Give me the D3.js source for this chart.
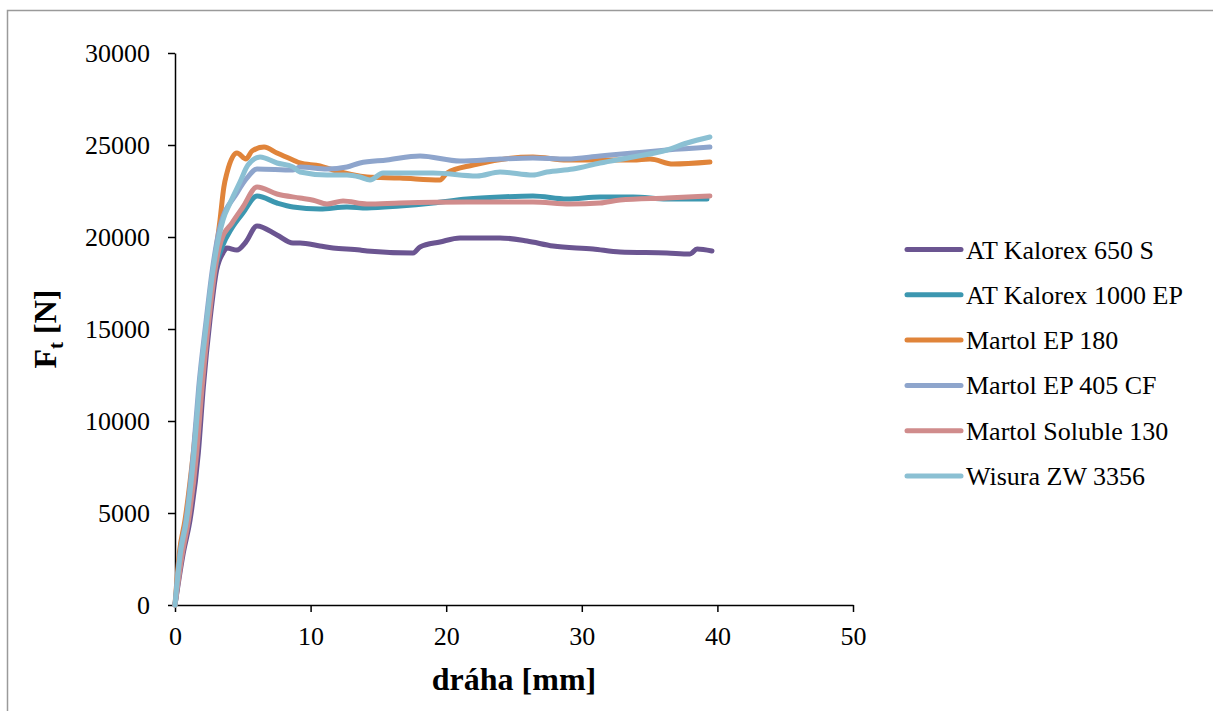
<!DOCTYPE html>
<html>
<head>
<meta charset="utf-8">
<script src="https://cdn.jsdelivr.net/npm/d3@7"></script>
<style>
  body { margin: 0; background: #fff; }
  svg { display: block; }
  text { font-family: "Liberation Serif", "Times New Roman", serif; fill: #000; }
</style>
</head>
<body>
<svg id="chart" width="1213" height="711"></svg>
<script>
// ---- data: [dráha mm, Ft N] ----
const seriesNames = ["AT Kalorex 650 S", "AT Kalorex 1000 EP", "Martol EP 180", "Martol EP 405 CF", "Martol Soluble 130", "Wisura ZW 3356"];
const seriesColors = ["#6B5591", "#3C97B0", "#E0843A", "#8EA5CC", "#D08C8C", "#8BC0D3"];

const kalorex650 = [[0,0],[0.61,2826],[1.11,4620],[1.72,8260],[2.09,11850],[2.58,15490],[3.07,18200],[3.54,19130],[3.83,19400],[4.57,19293],[5.2,19700],[6.05,20600],[7.52,20109],[8.7,19674],[9.22,19674],[10.69,19511],[11.65,19400],[13.64,19293],[14.16,19240],[17.55,19130],[18.07,19460],[19.54,19730],[21.02,19950],[23.97,19950],[25.96,19780],[27.88,19510],[30.83,19350],[32.82,19185],[36.28,19130],[37.98,19080],[38.5,19350],[39.6,19240]];
const kalorex1000 = [[0,0],[0.5,2826],[0.95,4620],[1.55,8260],[1.95,11850],[2.45,15490],[2.95,18200],[3.5,19500],[4.2,20489],[5.01,21300],[6.05,22228],[7.52,21848],[8.7,21630],[10.69,21520],[12.68,21630],[14.16,21576],[16.59,21685],[19.03,21848],[21.53,22065],[23.97,22174],[26.4,22228],[28.91,22065],[31.34,22174],[33.78,22174],[36.28,22065],[39.23,22065]];
const martolEP180 = [[0,0],[0.32,2826],[0.74,4620],[1.35,8260],[1.84,11850],[2.41,15490],[2.83,18200],[3.32,20924],[3.6,22700],[3.83,23478],[4.57,24565],[5.24,24239],[5.68,24674],[6.57,24891],[7.52,24565],[8.7,24185],[9.22,24022],[10.69,23859],[11.65,23641],[14.16,23261],[16.59,23207],[19.54,23098],[20.06,23478],[21.98,23913],[26.4,24348],[28.91,24185],[33.78,24185],[35.03,24239],[36.73,23967],[39.45,24076]];
const martolEP405 = [[0,0],[0.37,2826],[0.81,4620],[1.35,8260],[1.75,11850],[2.3,15490],[2.75,18200],[3.3,20500],[4.57,22391],[5.31,23207],[6.05,23696],[8.7,23641],[9.22,23804],[11.21,23696],[12.68,23804],[13.64,24022],[15.63,24185],[18.07,24402],[21.02,24130],[23.97,24239],[26.4,24294],[28.91,24239],[31.34,24402],[33.78,24565],[36.28,24728],[39.45,24891]];
const martolSoluble = [[0,0],[0.55,2826],[1.0,4620],[1.6,8260],[2.0,11850],[2.5,15490],[2.95,18200],[3.4,19800],[4.2,20760],[5.01,21630],[6.05,22717],[7.52,22337],[9.22,22120],[10.2,22000],[11.21,21793],[12.39,21957],[14.16,21793],[16.59,21848],[21.53,21900],[26.4,21900],[29.13,21793],[31.34,21848],[32.82,22011],[36.28,22120],[39.45,22228]];
const wisura = [[0,0],[0.4,2826],[0.85,4620],[1.4,8260],[1.8,11850],[2.35,15490],[2.8,18200],[3.54,20924],[4.06,21848],[4.79,22989],[5.38,23913],[6.27,24348],[7.52,24022],[8.7,23804],[9.22,23533],[11.21,23370],[12.68,23370],[13.64,23261],[14.38,23098],[15.34,23478],[19.03,23478],[22.27,23315],[23.97,23533],[26.4,23370],[27.43,23533],[29.35,23696],[31.34,24022],[33.78,24348],[36.28,24728],[37.76,25109],[39.45,25435]];
const seriesData = [kalorex650, kalorex1000, martolEP180, martolEP405, martolSoluble, wisura];

const xTicks = [0, 10, 20, 30, 40, 50];
const yTicks = [0, 5000, 10000, 15000, 20000, 25000, 30000];

// ---- layout ----
const svg = d3.select("#chart");
const plot = { left: 175, right: 853, top: 53, bottom: 605 };

svg.append("rect").attr("x", 7.5).attr("y", 10.5).attr("width", 1300).attr("height", 800)
  .attr("fill", "#fff").attr("stroke", "#9a9a9a").attr("stroke-width", 1.5);

const x = d3.scaleLinear().domain([0, 50]).range([plot.left, plot.right]);
const y = d3.scaleLinear().domain([0, 30000]).range([plot.bottom, plot.top]);

const xAxis = svg.append("g").attr("transform", `translate(0,${plot.bottom})`)
  .call(d3.axisBottom(x).tickValues(xTicks).tickSize(7).tickPadding(15).tickSizeOuter(0));
const yAxis = svg.append("g").attr("transform", `translate(${plot.left},0)`)
  .call(d3.axisLeft(y).tickValues(yTicks).tickSize(7).tickPadding(18).tickSizeOuter(0).tickFormat(d3.format("d")));
[xAxis, yAxis].forEach(g => {
  g.select(".domain").attr("stroke", "#000").attr("stroke-width", 1.5);
  g.selectAll(".tick line").attr("stroke", "#000").attr("stroke-width", 1.5);
  g.selectAll(".tick text").style("font-family", '"Liberation Serif", serif').style("font-size", "26px").attr("fill", "#000");
});

const line = d3.line().x(d => x(d[0])).y(d => y(d[1])).curve(d3.curveMonotoneX);
seriesData.forEach((s, i) => {
  svg.append("path").datum(s).attr("d", line)
    .attr("fill", "none").attr("stroke", seriesColors[i]).attr("stroke-width", 5)
    .attr("stroke-linejoin", "round").attr("stroke-linecap", "round");
});

// axis titles
svg.append("text").attr("x", 514).attr("y", 690).attr("text-anchor", "middle")
  .style("font-size", "32px").style("font-weight", "bold").text("dráha [mm]");
const yt = svg.append("text").attr("transform", "translate(56,329) rotate(-90)")
  .attr("text-anchor", "middle").style("font-size", "32px").style("font-weight", "bold");
yt.append("tspan").text("F");
yt.append("tspan").attr("dy", 7).style("font-size", "21px").text("t");
yt.append("tspan").attr("dy", -7).text(" [N]");

// legend
const legend = svg.append("g");
seriesNames.forEach((n, i) => {
  const ly = 249.5 + i * 45.3;
  legend.append("line").attr("x1", 907).attr("x2", 961).attr("y1", ly).attr("y2", ly)
    .attr("stroke", seriesColors[i]).attr("stroke-width", 5).attr("stroke-linecap", "round");
  legend.append("text").attr("x", 966).attr("y", ly + 9).style("font-size", "26px").text(n);
});
</script>
</body>
</html>
